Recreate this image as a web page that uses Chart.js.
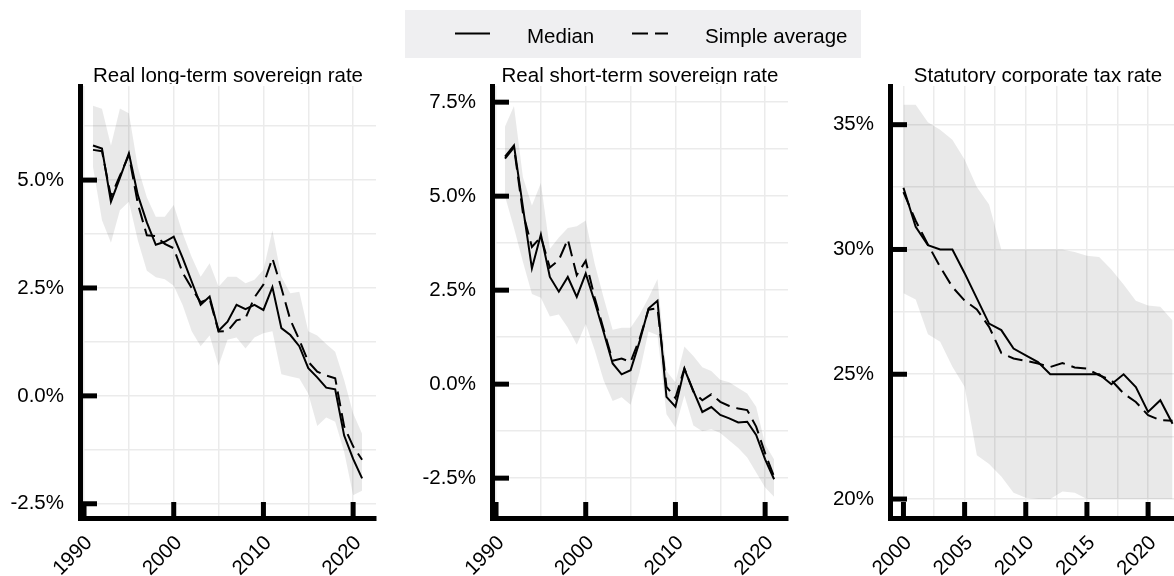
<!DOCTYPE html>
<html>
<head>
<meta charset="utf-8">
<script src="https://cdn.jsdelivr.net/npm/chart.js@4/dist/chart.umd.min.js"></script>
<style>
  html, body { margin: 0; padding: 0; width: 1174px; height: 576px; overflow: hidden; background: #fff; }
  canvas { position: absolute; top: 0; }
  #legend { position: absolute; left: 405px; top: 10px; width: 456px; height: 48px; background: #efeff1;
            font-family: "Liberation Sans", Arial, sans-serif; font-size: 20.5px; color: #000; }
  #legend span { position: absolute; top: 2px; line-height: 48px; white-space: nowrap; }
  #legend svg { position: absolute; left: 0; top: 0; }
</style>
</head>
<body>
<canvas id="c1" width="390" height="576" style="left:0px"></canvas>
<canvas id="c2" width="410" height="576" style="left:390px"></canvas>
<canvas id="c3" width="400" height="576" style="left:800px"></canvas>
<div id="legend">
  <svg width="456" height="48">
    <line x1="50" y1="23.5" x2="85" y2="23.5" stroke="#000" stroke-width="2"></line>
    <line x1="227" y1="23.5" x2="263" y2="23.5" stroke="#000" stroke-width="2" stroke-dasharray="16 7"></line>
  </svg>
  <span style="left:122px">Median</span>
  <span style="left:300px">Simple average</span>
</div>
<script>
// ---- Real long-term sovereign rate (%) ----
const years1 = [1991,1992,1993,1994,1995,1996,1997,1998,1999,2000,2001,2002,2003,2004,2005,2006,2007,2008,2009,2010,2011,2012,2013,2014,2015,2016,2017,2018,2019,2020,2021];
const median1 = [5.80,5.73,4.50,5.05,5.62,4.65,4.02,3.50,3.57,3.69,3.19,2.65,2.11,2.30,1.51,1.72,2.11,2.01,2.11,1.99,2.52,1.57,1.41,1.15,0.64,0.43,0.19,0.15,-0.92,-1.46,-1.91];
const mean1   = [5.70,5.67,4.62,5.10,5.58,4.45,3.72,3.70,3.52,3.42,2.85,2.50,2.17,2.25,1.49,1.50,1.75,1.80,2.28,2.58,3.19,2.50,1.76,1.30,0.79,0.56,0.47,0.41,-0.71,-1.17,-1.48];
const upper1  = [6.72,6.65,5.80,6.66,6.55,5.30,4.60,4.15,4.15,4.42,3.77,3.22,2.76,3.07,2.53,2.76,2.76,2.61,2.69,2.92,3.84,2.76,2.38,2.41,1.50,1.40,1.20,1.02,0.37,-0.40,-0.88];
const lower1  = [5.30,4.07,3.55,4.30,4.50,3.60,2.90,2.75,2.70,2.55,2.10,1.50,1.15,1.40,0.70,1.30,1.35,1.10,1.35,1.45,1.50,0.50,0.45,0.40,0.05,-0.70,-0.50,-0.60,-1.30,-2.30,-2.20];
const xLabels1 = [1990, 2000, 2010, 2020];
const yLabels1 = [-2.5, 0, 2.5, 5.0];

// ---- Real short-term sovereign rate (%) ----
const years2 = [1991,1992,1993,1994,1995,1996,1997,1998,1999,2000,2001,2002,2003,2004,2005,2006,2007,2008,2009,2010,2011,2012,2013,2014,2015,2016,2017,2018,2019,2020,2021];
const median2 = [6.05,6.35,4.70,3.08,3.98,2.85,2.46,2.85,2.32,2.94,2.19,1.38,0.55,0.26,0.37,1.13,2.01,2.22,-0.34,-0.60,0.40,-0.18,-0.74,-0.61,-0.82,-0.91,-1.02,-1.00,-1.35,-2.00,-2.53];
const mean2   = [6.00,6.30,4.55,3.65,3.92,3.10,3.30,3.85,2.90,3.28,2.30,1.45,0.62,0.68,0.59,1.20,1.98,2.02,-0.07,-0.37,0.42,-0.20,-0.43,-0.27,-0.47,-0.58,-0.65,-0.69,-1.13,-1.84,-2.46];
const upper2  = [6.85,7.40,5.50,4.75,5.35,3.60,3.90,4.15,4.20,4.35,3.20,2.30,1.45,1.50,1.50,1.85,2.30,2.80,0.35,0.05,1.00,0.75,0.45,0.35,0.12,0.05,-0.10,-0.25,-0.60,-1.60,-2.00];
const lower2  = [5.00,4.15,3.25,2.40,2.30,1.80,1.85,1.50,1.05,1.60,0.90,0.10,-0.45,-0.35,-0.55,0.30,1.40,1.30,-0.80,-1.15,-0.30,-1.10,-1.25,-1.20,-1.30,-1.50,-1.70,-1.95,-2.35,-2.75,-3.00];
const xLabels2 = [1990, 2000, 2010, 2020];
const yLabels2 = [-2.5, 0, 2.5, 5.0, 7.5];

// ---- Statutory corporate tax rate (%) ----
const years3 = [2000,2001,2002,2003,2004,2005,2006,2007,2008,2009,2010,2011,2012,2013,2014,2015,2016,2017,2018,2019,2020,2021,2022];
const median3 = [32.47,30.91,30.17,30.00,30.00,29.05,28.04,27.03,26.77,26.03,25.76,25.49,25.00,25.00,25.00,25.00,25.00,24.60,25.00,24.49,23.49,23.96,23.02];
const mean3   = [32.30,31.15,30.20,29.30,28.50,27.95,27.60,26.90,25.85,25.63,25.54,25.43,25.29,25.45,25.27,25.23,24.96,24.76,24.23,23.89,23.36,23.16,23.14];
const upper3  = [35.80,35.80,35.10,34.80,34.40,33.60,32.50,31.80,30.00,30.00,30.00,30.00,30.00,30.00,29.90,29.75,29.70,29.20,28.60,27.95,27.75,27.70,27.15];
const lower3  = [28.25,28.00,26.60,26.30,25.30,24.50,21.75,21.40,20.90,20.25,20.05,20.00,20.00,20.30,20.25,20.00,20.00,20.00,20.00,20.00,20.00,20.00,20.00];
const xLabels3 = [2000, 2005, 2010, 2015, 2020];
const yLabels3 = [20, 25, 30, 35];

const FONT_FAMILY = '"Liberation Sans", Arial, sans-serif';
const FONT = { family: FONT_FAMILY, size: 20.5 };

function points(xs, ys) {
  return xs.map((x, i) => ({ x: x, y: ys[i] }));
}
function isIn(list, v) {
  return list.find(t => Math.abs(t - v) < 1e-6);
}

// Panel title, drawn just above the plot area and cut off where the panel starts
const panelTitle = {
  id: 'panelTitle',
  afterDraw(chart, args, opts) {
    const { ctx, chartArea: a } = chart;
    ctx.save();
    ctx.beginPath();
    ctx.rect(0, 0, chart.width, a.top - 2);
    ctx.clip();
    ctx.font = '20.5px ' + FONT_FAMILY;
    ctx.fillStyle = '#000';
    ctx.textAlign = 'center';
    ctx.textBaseline = 'alphabetic';
    ctx.fillText(opts.text, (a.left + a.right) / 2, a.top - 4);
    ctx.restore();
  }
};

// Thick inward tick marks at the labelled values
const tickMarks = {
  id: 'tickMarks',
  afterDraw(chart, args, opts) {
    const { ctx, chartArea: a, scales } = chart;
    ctx.save();
    ctx.strokeStyle = '#000';
    ctx.lineWidth = 5;
    ctx.lineCap = 'butt';
    opts.yMajor.forEach(v => {
      const py = scales.y.getPixelForValue(v);
      ctx.beginPath(); ctx.moveTo(a.left, py); ctx.lineTo(a.left + 17, py); ctx.stroke();
    });
    opts.xMajor.forEach(v => {
      const px = scales.x.getPixelForValue(v);
      ctx.beginPath(); ctx.moveTo(px, a.bottom); ctx.lineTo(px, a.bottom - 16); ctx.stroke();
    });
    ctx.restore();
  }
};

function makePanel(id, p) {
  return new Chart(document.getElementById(id), {
    type: 'line',
    data: {
      datasets: [
        { label: 'Median', data: points(p.years, p.median), borderColor: '#000', borderWidth: 2,
          pointRadius: 0, fill: false, tension: 0 },
        { label: 'Simple average', data: points(p.years, p.mean), borderColor: '#000', borderWidth: 2,
          borderDash: [15, 7], pointRadius: 0, fill: false, tension: 0 },
        { label: 'Range low', data: points(p.years, p.lower), borderColor: 'transparent', borderWidth: 0,
          pointRadius: 0, fill: false },
        { label: 'Range high', data: points(p.years, p.upper), borderColor: 'transparent', borderWidth: 0,
          pointRadius: 0, fill: 2, backgroundColor: 'rgba(0,0,0,0.085)' }
      ]
    },
    options: {
      responsive: false,
      animation: false,
      devicePixelRatio: 1,
      events: [],
      layout: { padding: { top: 86, left: 0, right: p.padRight, bottom: 0 } },
      plugins: {
        legend: { display: false },
        tooltip: { enabled: false },
        panelTitle: { text: p.title },
        tickMarks: { xMajor: p.xLabels, yMajor: p.yLabels }
      },
      scales: {
        x: {
          type: 'linear', min: p.xMin, max: p.xMax,
          afterFit: s => { s.height = 58; s.paddingLeft = 0; s.paddingRight = 0; },
          grid: { color: '#ebebeb', lineWidth: 1.5, drawTicks: false },
          border: { display: true, color: '#000', width: 5 },
          ticks: {
            stepSize: p.xStep, includeBounds: false, maxTicksLimit: 50, autoSkip: false,
            minRotation: 45, maxRotation: 45, padding: 13, labelOffset: 5,
            font: FONT, color: '#000',
            callback: v => (isIn(p.xLabels, v) !== undefined ? String(Math.round(v)) : '')
          }
        },
        y: {
          type: 'linear', min: p.yMin, max: p.yMax,
          afterFit: s => { s.width = p.yAxisWidth; s.paddingTop = 0; s.paddingBottom = 0; },
          grid: { color: '#ebebeb', lineWidth: 1.5, drawTicks: false },
          border: { display: true, color: '#000', width: 5 },
          ticks: {
            stepSize: p.yStep, includeBounds: false, maxTicksLimit: 50, padding: 16,
            font: FONT, color: '#000',
            callback: v => { const m = isIn(p.yLabels, v); return m === undefined ? '' : p.fmt(m); }
          }
        }
      }
    },
    plugins: [panelTitle, tickMarks]
  });
}

makePanel('c1', {
  title: 'Real long-term sovereign rate',
  years: years1, median: median1, mean: mean1, upper: upper1, lower: lower1,
  xLabels: xLabels1, yLabels: yLabels1,
  xMin: 1989.55, xMax: 2022.55, xStep: 5,
  yMin: -2.83, yMax: 7.18, yStep: 1.25,
  yAxisWidth: 80, padRight: 14,
  fmt: v => v.toFixed(1) + '%'
});

makePanel('c2', {
  title: 'Real short-term sovereign rate',
  years: years2, median: median2, mean: mean2, upper: upper2, lower: lower2,
  xLabels: xLabels2, yLabels: yLabels2,
  xMin: 1989.55, xMax: 2022.55, xStep: 5,
  yMin: -3.56, yMax: 7.93, yStep: 1.25,
  yAxisWidth: 102, padRight: 12,
  fmt: v => v.toFixed(1) + '%'
});

makePanel('c3', {
  title: 'Statutory corporate tax rate',
  years: years3, median: median3, mean: mean3, upper: upper3, lower: lower3,
  xLabels: xLabels3, yLabels: yLabels3,
  xMin: 1998.9, xMax: 2023.1, xStep: 2.5,
  yMin: 19.24, yMax: 36.55, yStep: 2.5,
  yAxisWidth: 90, padRight: 14,
  fmt: v => v.toFixed(0) + '%'
});
</script>
</body>
</html>
